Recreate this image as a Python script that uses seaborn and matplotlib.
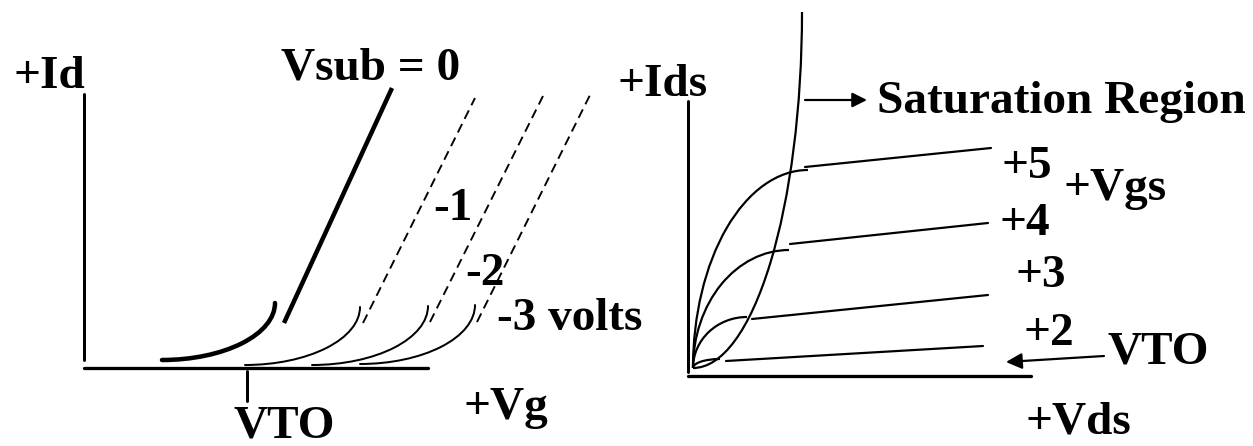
import numpy as np
import pandas as pd
import matplotlib
matplotlib.use("Agg")
import matplotlib.pyplot as plt
from matplotlib.patches import Arc
import seaborn as sns

# ---------------- data (diagram units, y grows downward) ----------------
# Left panel: Id vs Vg for several substrate voltages (body effect)
vsub_labels = ["Vsub = 0", "-1", "-2", "-3 volts"]
knee_start_x = [162, 245, 312, 360]   # sub-threshold knee: start (flat end)
knee_start_y = [360, 365, 365, 364]
knee_end_x = [275, 360, 428, 475]     # sub-threshold knee: steep end
knee_end_y = [303, 307, 306, 305]
lin_x0 = [284, 363, 430, 477]         # linear (strong inversion) part
lin_y0 = [323, 323, 322, 322]
lin_x1 = [392, 475, 543, 590]
lin_y1 = [88, 98, 96, 95]

# Right panel: Ids vs Vds for several Vgs
vgs_labels = ["+2", "+3", "+4", "+5"]
origin_xy = (693, 368)
knee_x = [720, 747, 789, 808]
knee_y = [359, 317, 250, 170]
flat_x0 = [726, 752, 790, 805]
flat_y0 = [361, 319, 244, 167]
flat_x1 = [983, 988, 988, 991]
flat_y1 = [346, 295, 223, 148]
sat_top = (802, 12)   # saturation boundary reaches vertical here

# ---------------- figure ----------------
sns.set_theme(style="white")
plt.rcParams["font.family"] = ["Liberation Serif", "DejaVu Serif"]
plt.rcParams["font.weight"] = "bold"

fig = plt.figure(figsize=(12.53, 4.46), dpi=100)
ax = fig.add_axes([0, 0, 1, 1])


def pt(px):
    return px * 0.72


K = "black"

# straight segments through seaborn
rows = []
for i in range(4):
    rows.append(dict(curve=i, x=lin_x0[i], y=lin_y0[i]))
    rows.append(dict(curve=i, x=lin_x1[i], y=lin_y1[i]))
df_lin = pd.DataFrame(rows)
sns.lineplot(data=df_lin[df_lin.curve == 0], x="x", y="y", units="curve",
             estimator=None, sort=False, color=K, lw=pt(4.5), ax=ax,
             solid_capstyle="butt")
sns.lineplot(data=df_lin[df_lin.curve > 0], x="x", y="y", units="curve",
             estimator=None, sort=False, color=K, lw=pt(1.9), ax=ax,
             linestyle=(0, (5, 3)))

rows = []
for i in range(4):
    rows.append(dict(curve=i, x=flat_x0[i], y=flat_y0[i]))
    rows.append(dict(curve=i, x=flat_x1[i], y=flat_y1[i]))
df_flat = pd.DataFrame(rows)
sns.lineplot(data=df_flat, x="x", y="y", units="curve", estimator=None,
             sort=False, color=K, lw=pt(2.2), ax=ax)

# sub-threshold knees (quarter ellipses)
for i in range(4):
    cx, cy = knee_start_x[i], knee_end_y[i]
    w = 2 * (knee_end_x[i] - knee_start_x[i])
    h = 2 * (knee_start_y[i] - knee_end_y[i])
    ax.add_patch(Arc((cx, cy), w, h, theta1=0, theta2=90, color=K,
                     lw=pt(4.5) if i == 0 else pt(2.0), capstyle="round"))

# Vgs curves in the linear region
ox, oy = origin_xy
for i in range(4):
    cx, cy = knee_x[i], oy
    w = 2 * (knee_x[i] - ox)
    h = 2 * (oy - knee_y[i])
    ax.add_patch(Arc((cx, cy), w, h, theta1=180, theta2=270, color=K,
                     lw=pt(2.2)))

# saturation boundary
ax.add_patch(Arc((ox, sat_top[1]), 2 * (sat_top[0] - ox),
                 2 * (oy - sat_top[1]), theta1=0, theta2=90, color=K,
                 lw=pt(2.2)))

# axes of both diagrams
ax.plot([84, 84], [94, 360], color=K, lw=pt(3))
ax.plot([84, 428], [368, 368], color=K, lw=pt(3.3))
ax.plot([247, 247], [371, 401], color=K, lw=pt(3))
ax.plot([688, 688], [101, 372], color=K, lw=pt(3))
ax.plot([688, 1031], [375.5, 375.5], color=K, lw=pt(3.3))

# arrows
ax.annotate("", xy=(867, 100), xytext=(805, 100),
            arrowprops=dict(arrowstyle="-|>", color=K, lw=pt(2.2),
                            mutation_scale=22, shrinkA=0, shrinkB=0))
ax.annotate("", xy=(1006, 362), xytext=(1104, 356),
            arrowprops=dict(arrowstyle="-|>", color=K, lw=pt(2.2),
                            mutation_scale=24, shrinkA=0, shrinkB=0))

# labels
FS = 34
tx = dict(ha="left", va="baseline", fontweight="bold", color=K)
ax.text(13, 88, "+Id", fontsize=FS, **tx)
ax.text(281, 80, vsub_labels[0], fontsize=FS, **tx)
ax.text(433, 220, vsub_labels[1], fontsize=FS, **tx)
ax.text(465, 285, vsub_labels[2], fontsize=FS, **tx)
ax.text(497, 330, vsub_labels[3], fontsize=FS, **tx)
ax.text(233, 438, "VTO", fontsize=FS, **tx)
ax.text(463, 419, "+Vg", fontsize=FS, **tx)

ax.text(617, 96, "+Ids", fontsize=FS, **tx)
ax.text(877, 113, "Saturation Region", fontsize=FS, **tx)
ax.text(1002, 178, vgs_labels[3], fontsize=FS, **tx)
ax.text(1063, 200, "+Vgs", fontsize=FS, **tx)
ax.text(999, 235, vgs_labels[2], fontsize=FS, **tx)
ax.text(1015, 287, vgs_labels[1], fontsize=FS, **tx)
ax.text(1023, 345, vgs_labels[0], fontsize=FS, **tx)
ax.text(1107, 363, "VTO", fontsize=FS, **tx)
ax.text(1026, 434, "+Vds", fontsize=FS, **tx)

ax.set_xlim(0, 1253)
ax.set_ylim(446, 0)
ax.axis("off")

fig.savefig("out.png", dpi=100, facecolor="white")
